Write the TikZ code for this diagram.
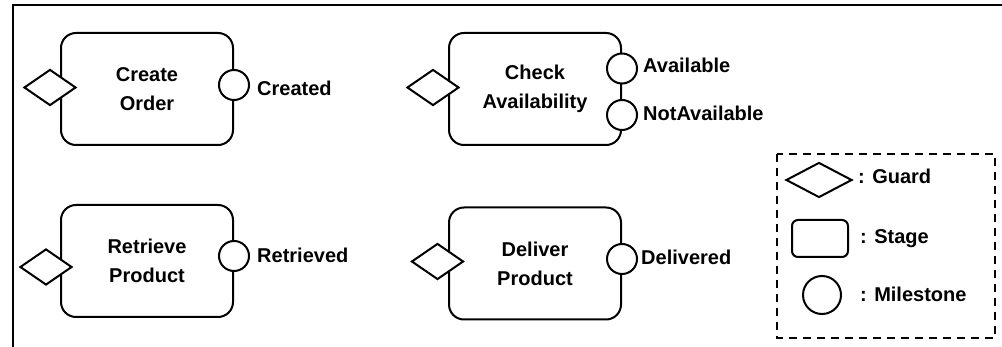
\documentclass[tikz,border=0pt]{standalone}
\usepackage{fontspec}
\setmainfont{Liberation Sans}
\usetikzlibrary{shapes.geometric}
\tikzset{
  lw/.style={line width=2pt},
  stagebox/.style={lw, draw=black, fill=white, rounded corners=15pt, minimum width=172pt, minimum height=112pt, inner sep=0pt, align=center, font=\fontsize{20}{29}\selectfont\bfseries},
  guardshape/.style={lw, draw=black, fill=white, diamond, minimum width=52pt, minimum height=36pt, inner sep=0pt},
  milestoneshape/.style={lw, draw=black, fill=white, circle, minimum size=30pt, inner sep=0pt},
  lbl/.style={anchor=base west, inner sep=0pt, font=\fontsize{20}{24}\selectfont\bfseries},
  legendbox/.style={lw, draw=black, dash pattern=on 8pt off 6pt},
}
\begin{document}
\begin{tikzpicture}[x=1pt,y=-1pt]
\useasboundingbox (0,0) rectangle (1002,347);
% frame
\coordinate (ftl) at (13,5);
\coordinate (ftr) at (1002,5);
\coordinate (fbl) at (13,347);
\draw[lw] (ftr) -- (ftl) -- (fbl);

% stages
\node[stagebox] (s1) at (147,89) {Create\\Order};
\node[stagebox] (s2) at (535,89) {Check\\Availability};
\node[stagebox] (s3) at (147,261) {Retrieve\\Product};
\node[stagebox] (s4) at (535,263.5) {Deliver\\Product};

% guards
\node[guardshape] (g1) at (50,87.5) {};
\node[guardshape] (g2) at (433,87.5) {};
\node[guardshape] (g3) at (46,267) {};
\node[guardshape] (g4) at (437.5,261.5) {};

% milestones
\node[milestoneshape] (m1) at (234,85) {};
\node[milestoneshape] (m2a) at (622,68.5) {};
\node[milestoneshape] (m2b) at (622,115) {};
\node[milestoneshape] (m3) at (234,256) {};
\node[milestoneshape] (m4) at (622,259) {};

% milestone labels
\node[lbl] (l1) at (257,96) {Created};
\node[lbl] (l2a) at (643,73) {Available};
\node[lbl] (l2b) at (643,121) {NotAvailable};
\node[lbl] (l3) at (257,263) {Retrieved};
\node[lbl] (l4) at (641,265) {Delivered};

% legend
\coordinate (lgtl) at (777,154);
\coordinate (lgbr) at (995,338);
\draw[legendbox] (lgtl) rectangle (lgbr);
\node[guardshape, minimum width=66pt, minimum height=35pt] (lg) at (819,180) {};
\node[lw, draw=black, rounded corners=6pt, minimum width=56pt, minimum height=37pt, inner sep=0pt] (ls) at (820,238.5) {};
\node[lw, draw=black, circle, minimum size=38pt, inner sep=0pt] (lm) at (822,295) {};
\node[lbl] (tg) at (858,184) {: Guard};
\node[lbl] (ts) at (860,244) {: Stage};
\node[lbl] (tm) at (860,302) {: Milestone};
\end{tikzpicture}
\end{document}
